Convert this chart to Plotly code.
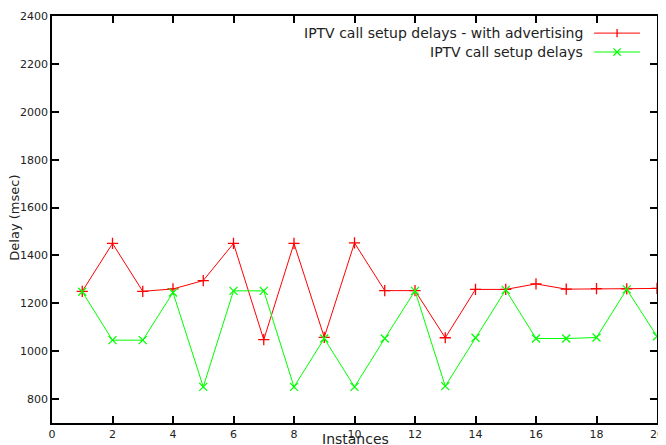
import plotly.graph_objects as go

instances = list(range(1, 21))
delay_adv = [1250, 1450, 1250, 1260, 1295, 1450, 1048, 1450, 1058, 1452,
             1253, 1253, 1056, 1258, 1258, 1281, 1259, 1261, 1260, 1262]
delay_plain = [1248, 1046, 1046, 1245, 851, 1252, 1252, 851, 1053, 851,
               1053, 1252, 854, 1056, 1256, 1053, 1053, 1057, 1258, 1062]
name_adv = "IPTV call setup delays - with advertising"
name_plain = "IPTV call setup delays"
x_ticks = [0, 2, 4, 6, 8, 10, 12, 14, 16, 18, 20]
y_ticks = [800, 1000, 1200, 1400, 1600, 1800, 2000, 2200, 2400]

RED = "#ff0000"
GREEN = "#00ff00"
FONT = "DejaVu Sans"
TXT = "#222"

fig = go.Figure()
fig.add_trace(go.Scatter(
    x=instances, y=delay_adv, mode="lines+markers", name=name_adv,
    line=dict(color=RED, width=1),
    marker=dict(symbol="cross-thin-open", size=8, line=dict(color=RED, width=1.3)),
    showlegend=False, cliponaxis=False))
fig.add_trace(go.Scatter(
    x=instances, y=delay_plain, mode="lines+markers", name=name_plain,
    line=dict(color=GREEN, width=1),
    marker=dict(symbol="x-thin-open", size=8, line=dict(color=GREEN, width=1.3)),
    showlegend=False, cliponaxis=False))

axis_common = dict(
    showline=True, linecolor="black", linewidth=1.5, mirror="ticks",
    ticks="inside", ticklen=7, tickwidth=1.5, tickcolor="black",
    showgrid=False, zeroline=False, automargin=False,
    tickfont=dict(family=FONT, size=11, color=TXT),
)
fig.update_xaxes(range=[0, 20], tickvals=x_ticks, ticklabelstandoff=0, **axis_common)
fig.update_yaxes(range=[700, 2400], tickvals=y_ticks, ticklabelstandoff=0, **axis_common)

# Axis titles
fig.add_annotation(text="Instances", xref="paper", yref="paper", x=0.501, y=-0.04,
                   xanchor="center", yanchor="middle", showarrow=False,
                   font=dict(family=FONT, size=14, color=TXT))
fig.add_annotation(text="Delay (msec)", xref="paper", yref="paper", x=-0.0615, y=0.504,
                   xanchor="center", yanchor="middle", showarrow=False, textangle=-90,
                   borderpad=0, font=dict(family=FONT, size=13, color=TXT))

# Legend drawn gnuplot-style: text right-aligned, sample to the right
legend_rows = [(name_adv, RED, 0.958), (name_plain, GREEN, 0.9115)]
for text, color, yp in legend_rows:
    fig.add_annotation(text=text, xref="paper", yref="paper", x=0.881, y=yp,
                       xanchor="right", yanchor="middle", showarrow=False,
                       font=dict(family=FONT, size=14, color=TXT))
    fig.add_shape(type="line", xref="paper", yref="paper",
                  x0=0.896, x1=0.972, y0=yp, y1=yp, line=dict(color=color, width=1))
mx = 0.934
# red '+' sample (vertical tick)
fig.add_shape(type="line", xref="paper", yref="paper", x0=mx, x1=mx,
              y0=0.958 - 0.010, y1=0.958 + 0.010, line=dict(color=RED, width=1.3))
# green 'x' sample
dx, dy = 0.006, 0.009
fig.add_shape(type="line", xref="paper", yref="paper", x0=mx - dx, x1=mx + dx,
              y0=0.9115 - dy, y1=0.9115 + dy, line=dict(color=GREEN, width=1.3))
fig.add_shape(type="line", xref="paper", yref="paper", x0=mx - dx, x1=mx + dx,
              y0=0.9115 + dy, y1=0.9115 - dy, line=dict(color=GREEN, width=1.3))

# The page places the figure 8px in from the top-left corner (default body margin),
# so the figure is sized to fill the remaining 658x437 of the window.
fig.update_layout(
    width=658, height=437,
    margin=dict(l=44, r=9, t=8, b=22),
    paper_bgcolor="white", plot_bgcolor="white",
    font=dict(family=FONT, size=12, color=TXT),
)
fig.write_html("out.html")
